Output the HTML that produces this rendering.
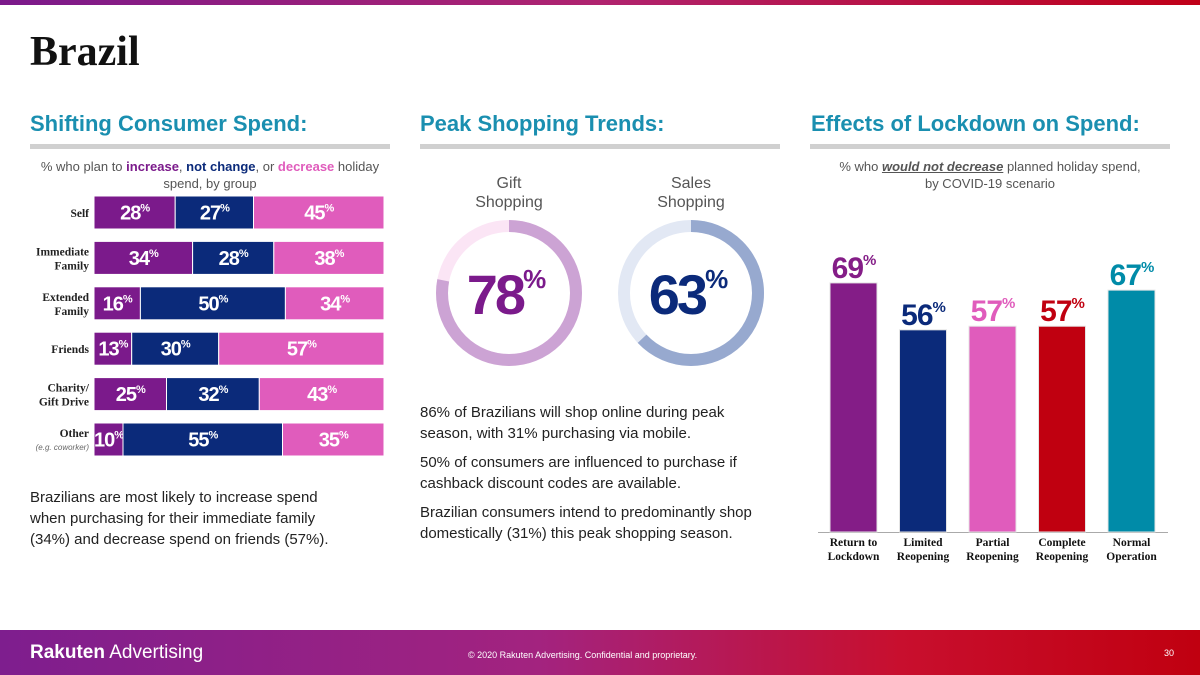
<!DOCTYPE html>
<html><head><meta charset="utf-8">
<style>
body{margin:0;width:1200px;height:675px;overflow:hidden;background:#fff;font-family:"Liberation Sans",sans-serif;position:relative}
.abs{position:absolute}
.h2{position:absolute;top:111px;font-size:22px;font-weight:bold;color:#1a8fb0}
.rule{position:absolute;top:144px;height:5px;background:#d0d0d0}
.sub{position:absolute;font-size:13px;color:#555;text-align:center;line-height:17px}
.body{position:absolute;font-size:15px;color:#222;line-height:21px}
</style></head><body>
<div class="abs" style="left:0;top:0;width:1200px;height:5px;background:linear-gradient(90deg,#7b1a8b,#b0236f,#c00018)"></div>
<div class="abs" style="left:30px;top:28px;font-family:'Liberation Serif',serif;font-size:42px;font-weight:bold;color:#111">Brazil</div>

<div class="h2" style="left:30px">Shifting Consumer Spend:</div>
<div class="h2" style="left:420px">Peak Shopping Trends:</div>
<div class="h2" style="left:811px">Effects of Lockdown on Spend:</div>
<div class="rule" style="left:30px;width:360px"></div>
<div class="rule" style="left:420px;width:360px"></div>
<div class="rule" style="left:810px;width:360px"></div>

<div class="sub" style="left:30px;top:158px;width:360px">% who plan to <b style="color:#7b1a8b">increase</b>, <b style="color:#0b2a7a">not change</b>, or <b style="color:#e05cbc">decrease</b> holiday spend, by group</div>
<svg class="abs" style="left:0;top:0" width="400" height="470" id="stk"></svg>

<div class="body" style="left:30px;top:487px;width:325px">Brazilians are most likely to increase spend when purchasing for their immediate family (34%) and decrease spend on friends (57%).</div>

<div class="sub" style="left:459px;top:174px;width:100px;font-size:16px;line-height:19px">Gift<br>Shopping</div>
<div class="sub" style="left:641px;top:174px;width:100px;font-size:16px;line-height:19px">Sales<br>Shopping</div>
<svg class="abs" style="left:420px;top:200px" width="370" height="190" id="don"></svg>

<div class="body" style="left:420px;top:402px;width:350px">
<p style="margin:0 0 8px">86% of Brazilians will shop online during peak season, with 31% purchasing via mobile.</p>
<p style="margin:0 0 8px">50% of consumers are influenced to purchase if cashback discount codes are available.</p>
<p style="margin:0">Brazilian consumers intend to predominantly shop domestically (31%) this peak shopping season.</p></div>

<div class="sub" style="left:810px;top:158px;width:360px">% who <b><i><u>would not decrease</u></i></b> planned holiday spend,<br>by COVID-19 scenario</div>
<svg class="abs" style="left:810px;top:240px" width="370" height="330" id="bar"></svg>

<div class="abs" style="left:0;top:630px;width:1200px;height:45px;background:linear-gradient(90deg,#7e1e8e,#a3237f 45%,#c80f2e 75%,#c00010)"></div>
<div class="abs" style="left:30px;top:642px;color:#fff;font-size:19px"><b>Rakuten</b> Advertising</div>
<div class="abs" style="left:468px;top:650px;color:#fff;font-size:9px">© 2020 Rakuten Advertising. Confidential and proprietary.</div>
<div class="abs" style="left:1164px;top:648px;color:#fff;font-size:9px">30</div>

<script>
const NS="http://www.w3.org/2000/svg";
function mk(p,t,a,txt){const e=document.createElementNS(NS,t);for(const k in a)e.setAttribute(k,a[k]);if(txt!==undefined)e.textContent=txt;p.appendChild(e);return e;}

// stacked chart data
const groups=["Self","Immediate|Family","Extended|Family","Friends","Charity/|Gift Drive","Other"];
const increase=[28,34,16,13,25,10];
const noChange=[27,28,50,30,32,55];
const decrease=[45,38,34,57,43,35];
const stk=document.getElementById('stk');
const x0=94,W=290,y0=196,pitch=45.4,bh=33;
const xs=v=>v/100*W;
const cols=["#7b1a8b","#0b2a7a","#e05cbc"];
groups.forEach((g,i)=>{
  const y=y0+i*pitch;
  const vals=[increase[i],noChange[i],decrease[i]];
  let cx=x0;
  vals.forEach((v,j)=>{
    const w=xs(v);
    const r=mk(stk,'rect',{x:cx,y:y,width:w,height:bh,fill:cols[j],stroke:'#fff','stroke-width':1});
    
    
    const t=mk(stk,'text',{x:cx+w/2,y:y+bh/2+7,'text-anchor':'middle',fill:'#fff','font-size':20,'font-weight':'bold','font-family':'Liberation Sans,sans-serif','letter-spacing':'-1'});
    t.textContent=v;const s=mk(t,'tspan',{'font-size':11,dy:-8},'%');
    
    
    cx+=w;
  });
  const parts=g.split('|');
  const lbl=mk(stk,'text',{x:89,'text-anchor':'end','font-size':11.5,'font-weight':'bold','font-family':'Liberation Serif,serif',fill:'#222'});
  
  
  if(i===5){
    mk(lbl,'tspan',{x:89,y:y+14},'Other');
    mk(lbl,'tspan',{x:89,y:y+27,'font-size':8,'font-weight':'normal','font-style':'italic','font-family':'Liberation Sans,sans-serif',fill:'#666'},'(e.g. coworker)');
  } else if(parts.length===1) mk(lbl,'tspan',{x:89,y:y+21},parts[0]);
  else {mk(lbl,'tspan',{x:89,y:y+14},parts[0]);mk(lbl,'tspan',{x:89,y:y+28},parts[1]);}
});

// donuts
const donutLabels=["Gift","Sales"];
const donutValues=[78,63];
const don=document.getElementById('don');
const dcol=[["#fbe5f5","#cca3d4","#7b1a8b"],["#e2e8f4","#97a9cf","#0b2a7a"]];
const R=67;
donutValues.forEach((v,i)=>{
  const cx=89+i*182,cy=93;
  const bg=mk(don,'circle',{cx:cx,cy:cy,r:R,fill:'none',stroke:dcol[i][0],'stroke-width':12});
  
  
  const C=2*Math.PI*R;
  const arc=mk(don,'circle',{cx:cx,cy:cy,r:R,fill:'none',stroke:dcol[i][1],'stroke-width':12,'stroke-dasharray':(v/100*C)+' '+C,transform:`rotate(-90 ${cx} ${cy})`});
  
  
  const t=mk(don,'text',{x:cx-4,y:cy+21,'text-anchor':'middle',fill:dcol[i][2],'font-size':56,'font-weight':'bold','font-family':'Liberation Sans,sans-serif','letter-spacing':'-3'});
  t.textContent=v;mk(t,'tspan',{'font-size':26,dy:-26},'%');
  
  
});

// bar chart
const scenarios=["Return to|Lockdown","Limited|Reopening","Partial|Reopening","Complete|Reopening","Normal|Operation"];
const notDecrease=[69,56,57,57,67];
const bcols=["#841d87","#0b2a7a","#e05cbc","#c00010","#008ba8"];
const bar=document.getElementById('bar');
const base=292,k=3.61,bw=47,bx0=20,bp=69.5;
const ys=v=>base-v*k;
mk(bar,'line',{x1:8,x2:358,y1:base+0.5,y2:base+0.5,stroke:'#aaa','stroke-width':1});
scenarios.forEach((s,i)=>{
  const x=bx0+i*bp,y=ys(notDecrease[i]);
  const r=mk(bar,'rect',{x:x,y:y,width:bw,height:base-y,fill:bcols[i],stroke:'#e4e4e4','stroke-width':1});
  
  
  const t=mk(bar,'text',{x:x+bw/2,y:y-5,'text-anchor':'middle',fill:bcols[i],'font-size':30,'font-weight':'bold','font-family':'Liberation Sans,sans-serif','letter-spacing':'-1'});
  t.textContent=notDecrease[i];mk(t,'tspan',{'font-size':15,dy:-13},'%');
  
  
  const p=s.split('|');
  const l=mk(bar,'text',{'text-anchor':'middle','font-size':11.5,'font-weight':'bold','font-family':'Liberation Serif,serif',fill:'#111'});
  mk(l,'tspan',{x:x+bw/2,y:base+14},p[0]);mk(l,'tspan',{x:x+bw/2,y:base+28},p[1]);
  
  
});
</script>
</body></html>
